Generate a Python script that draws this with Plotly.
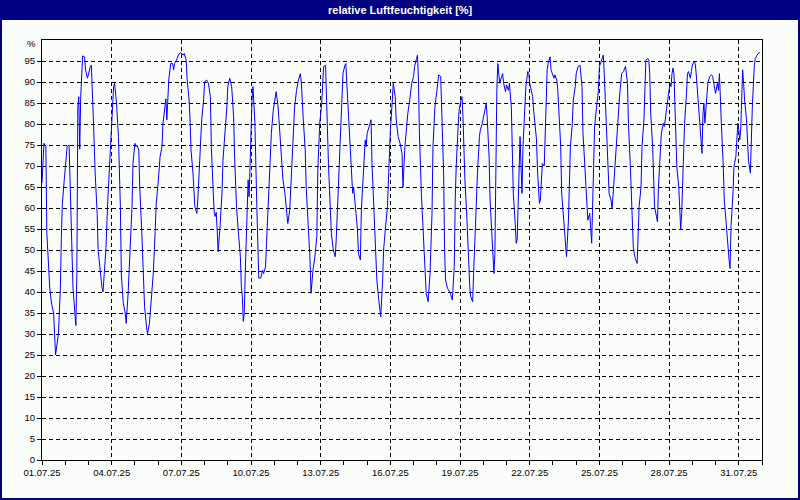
import pandas as pd
import plotly.graph_objects as go

# ---- data: relative humidity, hours since 01.07.25 00:00 ----
hours_w1 = [0, 2, 4, 5, 8, 10, 12, 13, 14, 17, 19, 20, 21, 23, 25, 26, 28, 29, 31, 32,
            34, 35, 36, 37, 38, 39, 40, 41, 42, 44, 45, 47, 48, 50, 51, 52, 53, 55, 57, 58,
            60, 62, 63, 64, 66, 68, 70, 72, 73, 74, 75, 77, 79, 81, 82, 84, 86, 87, 89, 91,
            93, 94, 96]
rh_w1 = [66, 75.4, 74.6, 54, 41, 37, 35, 30, 25, 30, 41, 53, 61, 66.7, 72, 74.6, 75, 66.7, 50, 41,
         35, 32, 44, 84, 86.5, 74, 86.5, 94.4, 96.2, 96, 92.9, 90.9, 92, 93.7, 94, 88.9, 81.7, 68, 58.7, 50,
         45, 41, 40, 44, 50, 61.9, 71.4, 78.6, 84, 88.9, 89.7, 85, 77, 60.3, 44, 37.3, 35, 32.5, 39.7, 48.4,
         60.3, 70.6, 75.4]

hours_w2 = [97, 98, 100, 101, 103, 105, 106, 108, 109, 111, 113, 115, 117, 118, 120, 122, 124, 125, 127, 128,
            129, 130, 131, 133, 135, 136, 137, 139, 141, 143, 144, 146, 147, 149, 150, 152, 153, 154, 156, 157,
            158, 160, 161, 163, 165, 167, 168, 170, 172, 174, 175, 177, 178, 179, 180, 181, 182, 184, 186, 187,
            189]
rh_w2 = [74.6, 75, 73.8, 65, 54.8, 44.4, 36.5, 31.7, 30, 32.5, 38, 44.4, 54.8, 61, 65.9, 72.2, 74.6, 80.2, 84, 86,
         81, 85.7, 90.5, 94.4, 94.4, 92.9, 94.4, 95.2, 96.4, 97, 96.8, 96.4, 96.8, 95.2, 90.5, 85.7, 81, 73.8, 68.3, 63.5,
         60.3, 58.7, 61.9, 71.4, 81, 85.7, 90, 90.5, 89.7, 86.5, 74.6, 63.5, 58.7, 58, 59, 54.8, 49.6, 55.6, 63.5, 71.4,
         77]

hours_w3 = [191, 192, 194, 196, 198, 199, 201, 203, 205, 206, 207, 208, 209, 210, 211, 213, 214, 216, 217, 218,
            220, 222, 223, 224, 226, 228, 229, 231, 232, 234, 236, 237, 239, 241, 242, 244, 246, 248, 249, 251,
            253, 254, 256, 258, 260, 261, 263, 265, 267, 268, 270, 272, 273, 275, 277, 278]
rh_w3 = [84, 88.9, 90.9, 88.9, 81.7, 72.2, 60.3, 54, 48.4, 41.3, 38.9, 33, 35, 44.4, 54, 66.7, 62.7, 81, 85.7, 88.9,
         80.2, 60.3, 49.2, 43.3, 43.3, 45.2, 44.4, 46, 51.6, 61.9, 70.6, 77.8, 83.3, 85.7, 87.7, 84, 77.8, 70.6, 66.7, 63.5,
         59.5, 56.3, 59.5, 68.3, 77.8, 84, 88, 90.5, 92, 89.7, 81, 73.8, 65, 57, 47.6, 39.7]

hours_w4 = [280, 282, 284, 285, 287, 289, 290, 291, 293, 294, 295, 296, 298, 299, 301, 303, 304, 306, 308, 310,
            311, 313, 314, 315, 317, 319, 320, 321, 322, 324, 326, 327, 329, 330, 332, 334, 335, 336, 338, 340,
            341, 343, 345, 346, 348, 349, 350, 352, 353, 355, 357, 358, 360, 362, 363, 365, 366, 368, 370, 372,
            373]
rh_w4 = [45.2, 48.4, 53.2, 69, 80.2, 84.9, 92, 93.7, 94, 84.9, 80.2, 70.6, 59.5, 54, 50, 48.4, 52.4, 64.3, 74.6, 87.3,
         92, 94, 94.4, 89.7, 80.2, 69.8, 65.9, 63.5, 65, 60.3, 54.8, 49.2, 47.6, 59.5, 69.8, 76.2, 74.6, 77.8, 79.4, 81,
         70.6, 60.3, 50.8, 42.9, 38.1, 34.9, 34.1, 42.9, 50, 55.6, 60.3, 66.7, 78.6, 85.7, 89.7, 86.5, 81, 77, 75.4, 73,
         65]

hours_w5 = [375, 377, 378, 380, 382, 384, 385, 387, 388, 389, 390, 392, 394, 395, 396, 397, 399, 401, 403, 404,
            406, 408, 409, 410, 412, 413, 415, 416, 417, 419, 420, 422, 424, 426, 427, 428, 430, 431, 433, 434,
            435, 437, 439, 440, 442, 443, 445, 446, 448, 450, 452, 453, 455, 457, 459, 460, 462, 463]
rh_w5 = [74.6, 80.2, 82.5, 85.7, 89.7, 91.3, 93.7, 95.6, 96.4, 90.5, 77.8, 63.5, 54, 47.6, 43.7, 39.7, 37.7, 44.4, 58.7, 74.6,
         84, 88, 90.9, 91.7, 91.3, 82.5, 68.3, 50, 42.9, 40.9, 40.5, 39.7, 38.1, 46, 61.9, 69.8, 79.4, 83.3, 85.7, 86.5,
         81.7, 66.7, 57.9, 50.8, 41.3, 38.9, 37.7, 44.4, 58.7, 68.3, 77, 78.6, 80.2, 82.5, 84.9, 81.7, 72.2, 61.9]

hours_w6 = [465, 466, 467, 468, 469, 470, 471, 472, 473, 475, 476, 477, 478, 479, 480, 482, 483, 485, 486, 487,
            489, 490, 491, 492, 493, 494, 495, 496, 497, 498, 500, 502, 503, 504, 506, 507, 508, 510, 511, 512,
            514, 515, 516, 517, 519, 520, 521, 522, 523, 525, 526, 528, 529, 530, 532, 533, 534, 536, 537, 538,
            540, 541, 542, 544, 545, 546, 548, 549, 551, 552, 554, 556]
rh_w6 = [54, 47.6, 44.4, 49.2, 73, 88, 94.4, 92, 89.7, 91.3, 92, 89.7, 88.9, 87.7, 89.3, 88, 89.7, 84, 73.8, 63.5,
         56.3, 51.6, 52.4, 59.5, 71.4, 77, 69.8, 63.5, 74.6, 81, 88.9, 92.5, 92, 89.7, 88, 86.5, 83.3, 79.4, 76.2, 69,
         61.1, 61.9, 67.5, 70.6, 70, 80.2, 90.5, 92.9, 94.4, 96, 92.9, 91.3, 90.9, 91.7, 90.5, 88, 82.5, 74.6, 63.5, 60.3,
         55.6, 50.8, 48.4, 57.1, 64.3, 74.6, 80.2, 85.7, 88.9, 92, 93.7, 94]

hours_w7 = [558, 559, 561, 562, 563, 564, 566, 567, 568, 570, 571, 573, 575, 576, 578, 580, 581, 582, 583, 585,
            586, 588, 589, 590, 592, 594, 595, 597, 599, 601, 602, 603, 605, 606, 608, 609, 610, 611, 612, 613,
            615, 616, 617, 619, 620, 622, 623, 624, 626, 627, 628, 629, 631, 632, 633, 635, 636, 637, 639, 640,
            642, 643, 644, 646, 647, 649]
rh_w7 = [88.9, 77.8, 69.8, 64.3, 59.5, 57.1, 58.7, 55.6, 51.6, 69.8, 79.4, 84, 88, 93.7, 95.2, 96.4, 92, 85.7, 77.8, 68.3,
         63.5, 61.9, 59.9, 62.7, 69.8, 76.2, 81, 87.3, 92, 92.5, 93.3, 93.7, 89.7, 80.2, 69.8, 62.7, 54, 50.8, 49.2, 48,
         46.8, 54, 60.3, 65, 74.6, 81, 87.3, 95.2, 95.6, 95.2, 92, 82.5, 74.6, 68.3, 60.3, 57.9, 56.7, 65, 72.2, 77.8,
         80.2, 79.4, 81, 84, 86.5, 89.7]

hours_w8 = [650, 651, 652, 653, 654, 655, 656, 658, 659, 660, 661, 662, 663, 664, 666, 667, 668, 670, 671, 672,
            674, 675, 676, 678, 679, 680, 681, 682, 683, 684, 685, 687, 688, 690, 692, 693, 695, 696, 698, 699,
            700, 701, 702, 704, 705, 707, 708, 709, 710, 711, 712, 714, 715, 717, 718, 719, 720, 721, 722, 723,
            724, 725, 726, 728, 729, 730, 732, 733, 734, 736, 737, 739, 740, 742]
rh_w8 = [88.9, 92, 93.3, 92, 85.7, 76.2, 69.8, 65, 60.3, 54.8, 58.7, 65, 72.2, 80.2, 87.3, 92, 92.5, 90.9, 92.5, 94,
         94.8, 94.4, 92, 85.7, 81.7, 77.8, 74.6, 73, 82.5, 84.9, 80.2, 85.7, 89.7, 91.3, 91.7, 91.3, 88.9, 87.3, 89.7, 88,
         92, 87.7, 80.2, 69.8, 61.9, 56.3, 52.4, 50, 47.6, 45.6, 55.6, 63.5, 69.8, 72.2, 76.2, 80.2, 78.6, 76.2, 78.6, 84,
         92.9, 89.7, 85.7, 81, 76.2, 71.4, 68.3, 76.2, 84, 93.7, 95.6, 96.4, 96.8, 97]

start_date = "2025-07-01"
end_date = "2025-08-01"
tick_dates = ["2025-07-01", "2025-07-04", "2025-07-07", "2025-07-10", "2025-07-13", "2025-07-16",
              "2025-07-19", "2025-07-22", "2025-07-25", "2025-07-28", "2025-07-31"]
tick_labels = ["01.07.25", "04.07.25", "07.07.25", "10.07.25", "13.07.25", "16.07.25",
               "19.07.25", "22.07.25", "25.07.25", "28.07.25", "31.07.25"]
y_ticks = list(range(0, 100, 5))
title_text = "relative Luftfeuchtigkeit [%]"
unit_text = "%"

hours = hours_w1 + hours_w2 + hours_w3 + hours_w4 + hours_w5 + hours_w6 + hours_w7 + hours_w8
rh = rh_w1 + rh_w2 + rh_w3 + rh_w4 + rh_w5 + rh_w6 + rh_w7 + rh_w8
times = pd.Timestamp(start_date) + pd.to_timedelta(hours, unit="h")

# ---- layout geometry ----
W, H = 800, 500
ML, MR, MT, MB = 42, 38, 40, 40
PW, PH = W - ML - MR, H - MT - MB


def px_x(px):
    return (px - ML) / PW


def px_y(py):
    return (H - MB - py) / PH


NAVY = "#000080"
BG = "#FBFDFB"
TICKFONT = dict(family="Liberation Sans, Arial, sans-serif", size=9.5, color="#000000")

fig = go.Figure()
fig.add_trace(go.Scatter(x=times, y=rh, mode="lines",
                         line=dict(color="#0000FF", width=1), hoverinfo="skip",
                         showlegend=False))

fig.update_layout(
    width=W, height=H,
    margin=dict(l=ML, r=MR, t=MT, b=MB, pad=0),
    paper_bgcolor=BG, plot_bgcolor=BG,
    font=TICKFONT,
    showlegend=False,
    xaxis=dict(
        type="date", range=[start_date, end_date], automargin=False,
        tickmode="array", tickvals=tick_dates, ticktext=tick_labels,
        ticks="outside", ticklen=4, tickcolor="#000000", tickwidth=1,
        showgrid=True, gridcolor="#000000", gridwidth=1, griddash="4px,3px",
        minor=dict(dtick=86400000, ticks="outside", ticklen=4, tickcolor="#000000",
                   tickwidth=1, showgrid=False),
        showline=True, linecolor="#000000", linewidth=1, mirror=True,
        zeroline=False, fixedrange=True, tickfont=TICKFONT,
    ),
    yaxis=dict(
        range=[0, 100], tickmode="array", tickvals=y_ticks, automargin=False,
        ticks="outside", ticklen=4, tickcolor="#000000", tickwidth=1,
        showgrid=True, gridcolor="#000000", gridwidth=1, griddash="4px,3px",
        showline=True, linecolor="#000000", linewidth=1, mirror=True,
        zeroline=False, fixedrange=True, tickfont=TICKFONT,
    ),
    shapes=[
        dict(type="rect", xref="paper", yref="paper",
             x0=px_x(0), x1=px_x(W), y0=px_y(20), y1=px_y(0),
             fillcolor=NAVY, line=dict(width=0), layer="above"),
        dict(type="rect", xref="paper", yref="paper",
             x0=px_x(1), x1=px_x(W - 1), y0=px_y(H - 1), y1=px_y(1),
             fillcolor="rgba(0,0,0,0)", line=dict(color=NAVY, width=2), layer="above"),
    ],
    annotations=[
        dict(text="<b>" + title_text + "</b>", xref="paper", yref="paper",
             x=px_x(W / 2), y=px_y(10), xanchor="center", yanchor="middle",
             showarrow=False,
             font=dict(family="Liberation Sans, Arial, sans-serif", size=11, color="#FFFFFF")),
        dict(text=unit_text, xref="paper", yref="paper",
             x=px_x(38), y=px_y(44), xanchor="right", yanchor="middle",
             showarrow=False, font=TICKFONT),
    ],
)

fig.write_html("out.html", config={"displayModeBar": False},
               post_script="document.body.style.margin='0px';document.body.style.overflow='hidden';")
